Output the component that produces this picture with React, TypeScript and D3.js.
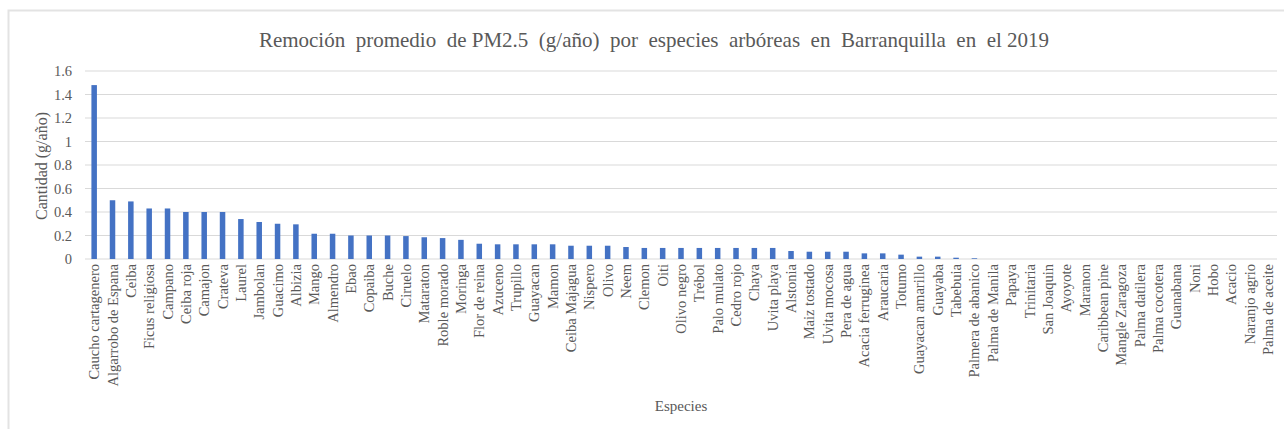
import React from "react";
import * as d3 from "d3";

const categories: string[] = [
  "Caucho cartagenero", "Algarrobo de Espana", "Ceiba", "Ficus religiosa", "Campano",
  "Ceiba roja", "Camajon", "Crateva", "Laurel", "Jambolan", "Guacimo", "Albizia",
  "Mango", "Almendro", "Ebao", "Copaiba", "Buche", "Ciruelo", "Mataraton",
  "Roble morado", "Moringa", "Flor de reina", "Azuceno", "Trupillo", "Guayacan",
  "Mamon", "Ceiba Majagua", "Nispero", "Olivo", "Neem", "Clemon", "Oiti",
  "Olivo negro", "Trébol", "Palo mulato", "Cedro rojo", "Chaya", "Uvita playa",
  "Alstonia", "Maiz tostado", "Uvita mocosa", "Pera de agua", "Acacia ferruginea",
  "Araucaria", "Totumo", "Guayacan amarillo", "Guayaba", "Tabebuia",
  "Palmera de abanico", "Palma de Manila", "Papaya", "Trinitaria", "San Joaquin",
  "Ayoyote", "Maranon", "Caribbean pine", "Mangle Zaragoza", "Palma datilera",
  "Palma cocotera", "Guanabana", "Noni", "Hobo", "Acacio", "Naranjo agrio",
  "Palma de aceite",
];

const values: number[] = [
  1.48, 0.5, 0.49, 0.43, 0.43, 0.4, 0.4, 0.4, 0.34, 0.315, 0.3, 0.295,
  0.215, 0.215, 0.2, 0.2, 0.2, 0.195, 0.185, 0.178, 0.163, 0.13, 0.125, 0.125,
  0.125, 0.125, 0.113, 0.113, 0.113, 0.102, 0.094, 0.094, 0.094, 0.094, 0.094,
  0.094, 0.094, 0.094, 0.068, 0.062, 0.062, 0.062, 0.048, 0.048, 0.037, 0.02,
  0.02, 0.011, 0.006, 0, 0, 0, 0, 0, 0, 0, 0, 0, 0, 0, 0, 0, 0, 0, 0,
];

const yTicks: number[] = [0, 0.2, 0.4, 0.6, 0.8, 1, 1.2, 1.4, 1.6];

const title = "Remoción  promedio  de PM2.5  (g/año)  por  especies  arbóreas  en  Barranquilla  en  el 2019";
const yTitle = "Cantidad (g/año)";
const xTitle = "Especies";

const W = 1284;
const H = 429;
const left = 85;
const right = 1277;
const top = 71;
const bottom = 259;
const FONT = "'Liberation Serif', Tinos, 'DejaVu Serif', serif";
const TEXT = "#595959";

export default function App() {
  const x = d3.scaleBand<string>().domain(categories).range([left, right]).paddingInner(0.7).paddingOuter(0.35);
  const y = d3.scaleLinear().domain([0, 1.6]).range([bottom, top]);
  const ts = { fontFamily: FONT };

  return (
    <svg
      width={W}
      height={H}
      style={{ position: "absolute", left: 0, top: 0, display: "block", background: "#fff" }}
    >
      <rect x={8.5} y={10.5} width={W + 20} height={H + 20} fill="#fff" stroke="#e3e3e3" strokeWidth={2} />
      <text
        x={654}
        y={47}
        textAnchor="middle"
        fontSize={21}
        fill={TEXT}
        style={{ whiteSpace: "pre", fontFamily: FONT }}
      >
        {title}
      </text>
      {yTicks.map((t) => (
        <g key={t}>
          <line x1={left} x2={right} y1={y(t)} y2={y(t)} stroke="#d9d9d9" strokeWidth={1} />
          <text x={72} y={y(t)} dy="0.35em" textAnchor="end" fontSize={14.5} fill={TEXT} style={ts}>
            {d3.format("~g")(t)}
          </text>
        </g>
      ))}
      {categories.map((c, i) => {
        const v = values[i];
        if (v <= 0) return null;
        return (
          <rect
            key={c}
            x={x(c)}
            y={y(v)}
            width={x.bandwidth()}
            height={y(0) - y(v)}
            fill="#4472C4"
          />
        );
      })}
      {categories.map((c) => {
        const cx = (x(c) as number) + x.bandwidth() / 2;
        return (
          <text
            key={c}
            transform={`translate(${cx},${264}) rotate(-90)`}
            dy="0.35em"
            textAnchor="end"
            fontSize={14.5}
            fill={TEXT}
            style={ts}
          >
            {c}
          </text>
        );
      })}
      <text
        transform={`translate(${41},${166}) rotate(-90)`}
        dy="0.35em"
        textAnchor="middle"
        fontSize={16}
        fill={TEXT}
        style={ts}
      >
        {yTitle}
      </text>
      <text x={681} y={411} textAnchor="middle" fontSize={15} fill={TEXT} style={ts}>
        {xTitle}
      </text>
    </svg>
  );
}
